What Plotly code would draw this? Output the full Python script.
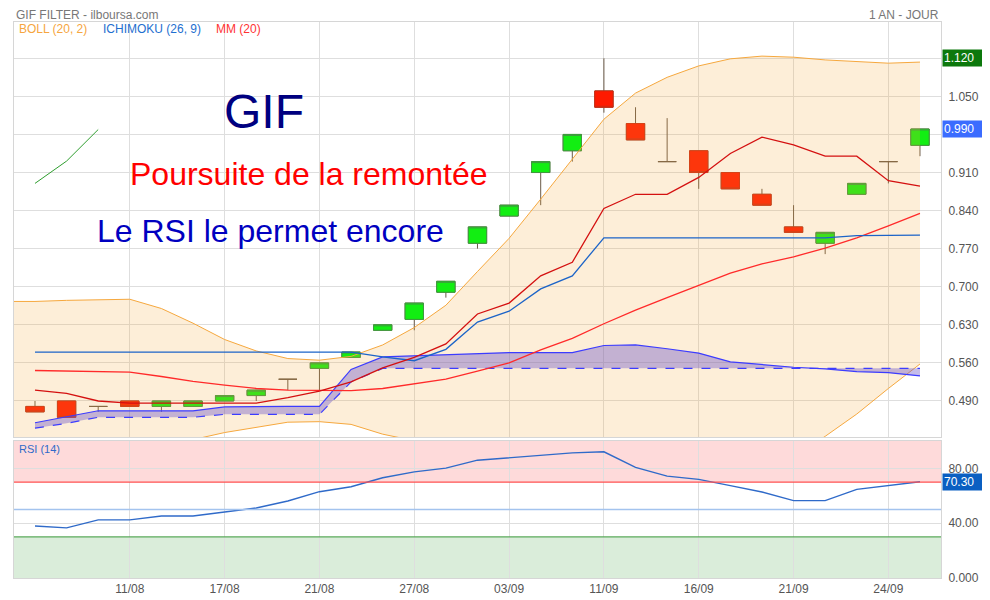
import plotly.graph_objects as go

# ---------------- data ----------------
# index 0 = previous session (only Bollinger band visible at left edge)
dates = ["02/08", "03/08", "05/08", "09/08", "11/08", "12/08", "16/08", "17/08",
         "18/08", "19/08", "21/08", "22/08", "25/08", "27/08", "30/08", "01/09",
         "03/09", "06/09", "08/09", "11/09", "12/09", "14/09", "16/09", "17/09",
         "19/09", "21/09", "22/09", "23/09", "24/09", "27/09"]

open_ = [None, 0.48, 0.49, 0.48, 0.49, 0.48, 0.48, 0.49, 0.50, 0.53, 0.55, 0.57, 0.62,
         0.64, 0.69, 0.78, 0.83, 0.91, 0.95, 1.06, 1.00, 0.93, 0.95, 0.91, 0.87,
         0.81, 0.78, 0.87, 0.93, 0.96]
high = [None, 0.49, 0.49, 0.48, 0.49, 0.49, 0.49, 0.50, 0.51, 0.53, 0.56, 0.58, 0.63,
        0.67, 0.71, 0.81, 0.85, 0.93, 0.98, 1.12, 1.03, 1.01, 0.95, 0.91, 0.88,
        0.85, 0.80, 0.89, 0.93, 0.99]
low = [None, 0.47, 0.46, 0.47, 0.48, 0.47, 0.48, 0.49, 0.49, 0.51, 0.51, 0.57, 0.62,
       0.62, 0.68, 0.77, 0.83, 0.85, 0.93, 1.02, 0.97, 0.93, 0.88, 0.88, 0.85,
       0.80, 0.76, 0.87, 0.89, 0.94]
close = [None, 0.47, 0.46, 0.48, 0.48, 0.49, 0.49, 0.50, 0.51, 0.53, 0.56, 0.58, 0.63,
         0.67, 0.71, 0.81, 0.85, 0.93, 0.98, 1.03, 0.97, 0.93, 0.91, 0.88, 0.85,
         0.80, 0.80, 0.89, 0.93, 0.99]

boll_upper = [0.673, 0.673, 0.675, 0.676, 0.677, 0.660, 0.633, 0.603, 0.582, 0.568,
              0.565, 0.572, 0.593, 0.625, 0.666, 0.728, 0.789, 0.861, 0.934, 1.008,
              1.056, 1.085, 1.106, 1.119, 1.124, 1.122, 1.117, 1.114, 1.111, 1.113]
boll_lower = [0.420, 0.419, 0.417, 0.413, 0.409, 0.410, 0.419, 0.432, 0.441, 0.451,
              0.452, 0.447, 0.429, 0.417, 0.394, 0.362, 0.331, 0.307, 0.276, 0.256,
              0.258, 0.275, 0.300, 0.331, 0.360, 0.388, 0.425, 0.466, 0.513, 0.558]

mm20 = [None, 0.546, 0.545, 0.544, 0.543, 0.535, 0.526, 0.519, 0.513, 0.510, 0.509,
        0.509, 0.513, 0.521, 0.530, 0.545, 0.560, 0.584, 0.605, 0.632, 0.657,
        0.680, 0.703, 0.725, 0.742, 0.755, 0.771, 0.790, 0.812, 0.835]

tenkan = [None, 0.510, 0.504, 0.490, 0.486, 0.486, 0.486, 0.486, 0.486, 0.496, 0.508,
          0.525, 0.551, 0.570, 0.595, 0.650, 0.670, 0.720, 0.745, 0.844, 0.870,
          0.870, 0.901, 0.945, 0.975, 0.961, 0.940, 0.940, 0.895, 0.885]

kijun = [None, 0.580, 0.580, 0.580, 0.580, 0.580, 0.580, 0.580, 0.580, 0.580, 0.580,
         0.580, 0.571, 0.564, 0.585, 0.635, 0.655, 0.696, 0.720, 0.790, 0.790,
         0.790, 0.790, 0.790, 0.790, 0.790, 0.790, 0.794, 0.795, 0.795]

span_a = [None, 0.450, 0.461, 0.472, 0.472, 0.472, 0.472, 0.479, 0.480, 0.480, 0.480,
          0.548, 0.571, 0.573, 0.576, 0.578, 0.579, 0.579, 0.579, 0.592, 0.593,
          0.586, 0.578, 0.562, 0.557, 0.552, 0.549, 0.544, 0.542, 0.536]
span_b = [None, 0.440, 0.449, 0.460, 0.460, 0.460, 0.460, 0.4655, 0.4655, 0.4655, 0.4655,
          0.525, 0.550, 0.550, 0.550, 0.550, 0.550, 0.550, 0.550, 0.550, 0.550,
          0.550, 0.550, 0.550, 0.550, 0.550, 0.550, 0.550, 0.550, 0.550]

rsi = [None, 38.0, 36.6, 42.4, 42.4, 45.3, 45.3, 48.2, 51.1, 56.2, 63.0, 66.6, 73.2,
       77.5, 80.2, 86.0, 87.7, 89.9, 91.3, 92.1, 80.7, 74.4, 72.0, 67.4, 62.8,
       56.5, 56.5, 64.7, 67.4, 70.3]

drawn_line_x = [1, 2, 3]
drawn_line_y = [0.890, 0.931, 0.989]

price_ticks = [0.49, 0.56, 0.63, 0.70, 0.77, 0.84, 0.91, 0.98, 1.05, 1.12]
price_labels = ["0.490", "0.560", "0.630", "0.700", "0.770", "0.840", "0.910", "", "1.050", ""]
rsi_ticks = [0, 40, 80]
rsi_labels = ["0.000", "40.00", "80.00"]
rsi_levels = {"overbought": 70, "mid": 50, "oversold": 30}

last_price = 0.99
max_price = 1.12
last_rsi = 70.30

# ---------------- derived ----------------
x = list(range(len(dates)))
tick_idx = list(range(4, len(dates), 3))
tick_txt = [dates[i] for i in tick_idx]

body_o, body_h, body_l, body_c = [], [], [], []
for o, c in zip(open_, close):
    if o is None or o == c:
        body_o.append(None); body_h.append(None); body_l.append(None); body_c.append(None)
    else:
        body_o.append(o); body_c.append(c); body_h.append(max(o, c)); body_l.append(min(o, c))

FONT = "Liberation Sans, Arial, sans-serif"
GREEN = "#12ee12"
GREEN_EDGE = "#3f9a3f"
RED = "#ff1a00"
RED_EDGE = "#cf2a10"
WICK = "#6b5a48"
ORANGE = "#f6a83e"
GRID = "#dedede"

fig = go.Figure()

# Bollinger
fig.add_trace(go.Scatter(x=x, y=boll_lower, mode="lines", line=dict(color=ORANGE, width=1),
                         hoverinfo="skip", showlegend=False))
fig.add_trace(go.Scatter(x=x, y=boll_upper, mode="lines", line=dict(color=ORANGE, width=1),
                         fill="tonexty", fillcolor="rgba(246,168,62,0.2)",
                         hoverinfo="skip", showlegend=False))
# Ichimoku cloud
fig.add_trace(go.Scatter(x=x, y=span_b, mode="lines",
                         line=dict(color="#3c3cff", width=1.2, dash="dash"),
                         hoverinfo="skip", showlegend=False))
fig.add_trace(go.Scatter(x=x, y=span_a, mode="lines", line=dict(color="#3c3cff", width=1.2),
                         fill="tonexty", fillcolor="rgba(100,80,200,0.38)",
                         hoverinfo="skip", showlegend=False))
# lines
fig.add_trace(go.Scatter(x=x, y=mm20, mode="lines", line=dict(color="#ff2a2a", width=1.3),
                         showlegend=False))
fig.add_trace(go.Scatter(x=x, y=kijun, mode="lines", line=dict(color="#1c64c8", width=1.3),
                         showlegend=False))
fig.add_trace(go.Scatter(x=x, y=tenkan, mode="lines", line=dict(color="#d41010", width=1.3),
                         showlegend=False))
# user drawing
fig.add_trace(go.Scatter(x=drawn_line_x, y=drawn_line_y, mode="lines",
                         line=dict(color="#2e9e2e", width=1), showlegend=False))

# candles: wicks + doji
fig.add_trace(go.Candlestick(x=x, open=open_, high=high, low=low, close=close,
                             increasing=dict(line=dict(color=WICK, width=1), fillcolor=GREEN),
                             decreasing=dict(line=dict(color=WICK, width=1), fillcolor=RED),
                             showlegend=False))
# candle bodies
fig.add_trace(go.Candlestick(x=x, open=body_o, high=body_h, low=body_l, close=body_c,
                             increasing=dict(line=dict(color=GREEN_EDGE, width=1), fillcolor=GREEN),
                             decreasing=dict(line=dict(color=RED_EDGE, width=1), fillcolor=RED),
                             showlegend=False))

# RSI
fig.add_trace(go.Scatter(x=x, y=rsi, mode="lines", line=dict(color="#2f6ac9", width=1.4),
                         xaxis="x2", yaxis="y2", showlegend=False))

shapes = [
    dict(type="rect", xref="paper", yref="y2", x0=0, x1=1, y0=rsi_levels["overbought"], y1=100,
         fillcolor="rgba(250,60,60,0.19)", line=dict(width=0), layer="between"),
    dict(type="rect", xref="paper", yref="y2", x0=0, x1=1, y0=0, y1=rsi_levels["oversold"],
         fillcolor="rgba(60,160,60,0.19)", line=dict(width=0), layer="between"),
    dict(type="line", xref="paper", yref="y2", x0=0, x1=1,
         y0=rsi_levels["overbought"], y1=rsi_levels["overbought"],
         line=dict(color="#ff5050", width=1.3)),
    dict(type="line", xref="paper", yref="y2", x0=0, x1=1,
         y0=rsi_levels["mid"], y1=rsi_levels["mid"], line=dict(color="#a3c3ee", width=1.3)),
    dict(type="line", xref="paper", yref="y2", x0=0, x1=1,
         y0=rsi_levels["oversold"], y1=rsi_levels["oversold"], line=dict(color="#5aaa5a", width=1.3)),
]

ann = []
ann.append(dict(text="GIF FILTER - ilboursa.com", xref="paper", yref="paper", x=0, y=1.0125,
                xanchor="left", yanchor="middle", showarrow=False,
                font=dict(family=FONT, size=12, color="#777777")))
ann.append(dict(text="1 AN - JOUR", xref="paper", yref="paper", x=1, y=1.0125,
                xanchor="right", yanchor="middle", showarrow=False,
                font=dict(family=FONT, size=12, color="#777777")))
for txt, xp, col in [("BOLL (20, 2)", 0.0035, "#f6a640"), ("ICHIMOKU (26, 9)", 0.0935, "#1e6fd0"),
                     ("MM (20)", 0.2157, "#ff3333")]:
    ann.append(dict(text=txt, xref="paper", yref="paper", x=xp, y=0.9874, xanchor="left",
                    yanchor="middle", showarrow=False, font=dict(family=FONT, size=12, color=col)))
ann.append(dict(text="RSI (14)", xref="paper", yref="paper", x=0.0035, y=0.2325, xanchor="left",
                yanchor="middle", showarrow=False, font=dict(family=FONT, size=11, color="#2f6ac9")))
ann.append(dict(text="GIF", xref="x", yref="y", x=8.26, y=1.022, showarrow=False,
                font=dict(family=FONT, size=48, color="#000080")))
ann.append(dict(text="Poursuite de la remontée", xref="x", yref="y", x=9.67, y=0.907,
                showarrow=False, font=dict(family=FONT, size=32, color="#ff0000")))
ann.append(dict(text="Le RSI le permet encore", xref="x", yref="y", x=8.45, y=0.802,
                showarrow=False, font=dict(family=FONT, size=32, color="#0000c0")))
# value badges
for val, yref, txt, bg in [(max_price, "y", f"{max_price:.3f}", "#0c780c"),
                           (last_price, "y", f"{last_price:.3f}", "#3b6cff"),
                           (last_rsi, "y2", f"{last_rsi:.2f}", "#0a5fc2")]:
    ann.append(dict(text=txt, xref="paper", yref=yref, x=1, y=val, xanchor="left",
                    yanchor="middle",
                    xshift=1, showarrow=False, bgcolor=bg, width=44, height=14, borderpad=1,
                    align="left", font=dict(family=FONT, size=12, color="white")))

axis_common = dict(showline=True, mirror=True, linecolor="#d6d6d6", linewidth=1,
                   zeroline=False, gridcolor=GRID, gridwidth=1, automargin=False)

# the page body adds an 8px offset: size the figure so it fits the 990x600 window exactly
fig.update_layout(
    width=982, height=592,
    autosize=False,
    margin=dict(l=6, r=49, t=14, b=22),
    paper_bgcolor="white", plot_bgcolor="white",
    font=dict(family=FONT, size=12, color="#555555"),
    showlegend=False,
    boxgap=0.42, boxgroupgap=0,
    hovermode=False,
    xaxis=dict(domain=[0, 1], anchor="y", range=[0.336, 29.665], tickmode="array",
               tickvals=tick_idx, ticktext=tick_txt, showticklabels=False, showgrid=True,
               rangeslider=dict(visible=False), **axis_common),
    xaxis2=dict(domain=[0, 1], anchor="y2", matches="x", range=[0.336, 29.665], tickmode="array",
                tickvals=tick_idx, ticktext=tick_txt, showticklabels=True, showgrid=True,
                tickfont=dict(family=FONT, size=12, color="#555555"), ticks="", **axis_common),
    yaxis=dict(domain=[0.2536, 1], anchor="x", side="right", range=[0.4238, 1.1867],
               tickmode="array", tickvals=price_ticks, ticktext=price_labels, ticks="",
               ticklabelstandoff=4, tickfont=dict(family=FONT, size=12, color="#555555"),
               showgrid=True, **axis_common),
    yaxis2=dict(domain=[0, 0.2464], anchor="x2", side="right", range=[0, 100],
                tickmode="array", tickvals=rsi_ticks, ticktext=rsi_labels, ticks="",
                ticklabelstandoff=4, tickfont=dict(family=FONT, size=12, color="#555555"),
                showgrid=True, **axis_common),
    shapes=shapes,
    annotations=ann,
)

fig.write_html("out.html")
